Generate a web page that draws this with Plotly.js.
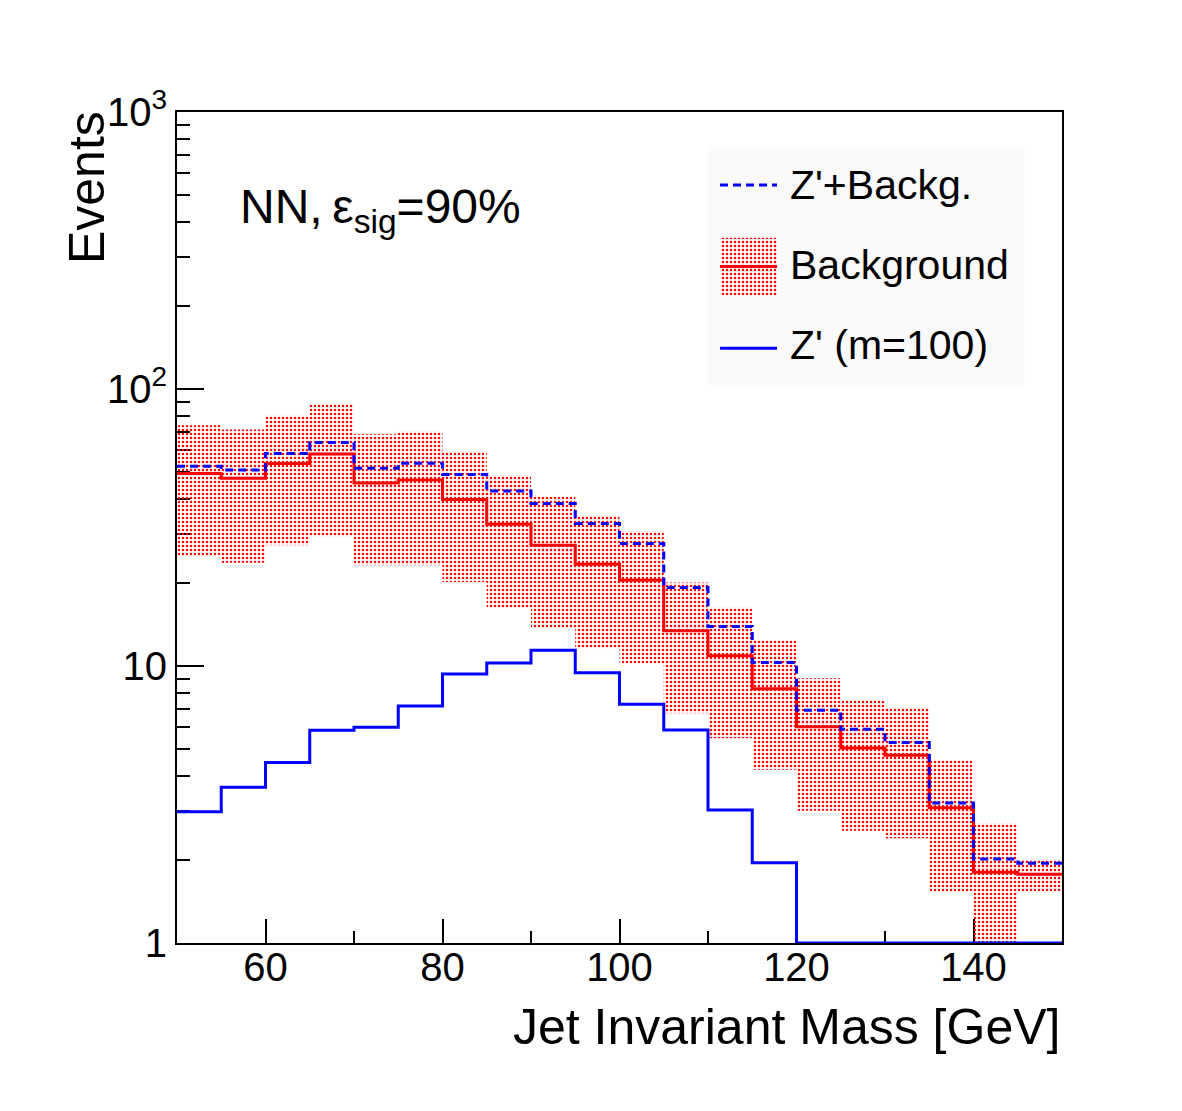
<!DOCTYPE html>
<html>
<head>
<meta charset="utf-8">
<script src="https://cdn.plot.ly/plotly-3.0.1.min.js"></script>
<style>html,body{margin:0;padding:0;background:#fff;}</style>
</head>
<body>
<div id="plot" style="width:1182px;height:1111px;"></div>
<script>
// ---- data ----
const binEdges = [50,55,60,65,70,75,80,85,90,95,100,105,110,115,120,125,130,135,140,145,150];
const background = [49.5,47.6,53.8,58.3,45.8,46.9,39.9,32.5,27.3,23.3,20.4,13.4,10.9,8.28,6.03,5.06,4.76,3.08,1.80,1.77];
const signal = [2.98,3.65,4.48,5.86,6.01,7.17,9.36,10.25,11.4,9.46,7.27,5.88,3.02,1.95,0.89,0.85,0.53,0.12,0.21,0.17];
const sigPlusBkg = [52.6,51.0,58.5,64.1,51.8,54.0,49.1,42.8,38.6,32.7,27.7,19.2,13.9,10.3,6.92,5.91,5.29,3.20,2.01,1.94];
const bandUpper = [74.0,71.4,80.4,88.1,68.6,70.4,59.6,48.9,40.8,35.0,30.7,20.0,16.3,12.4,9.03,7.54,7.10,4.58,2.71,2.01];
const bandLower = [24.8,23.6,27.3,29.3,23.1,23.1,20.1,16.2,13.7,11.6,10.2,6.75,5.49,4.22,3.00,2.54,2.39,1.53,0.90,1.54];
const xTickVals = [60,80,100,120,140];
const yTickVals = [1,10,100,1000];
const yTickText = ['1','10','10<sup>2</sup>','10<sup>3</sup>'];
const legendLabels = ["Z'+Backg.", "Background", "Z' (m=100)"];
const xTitle = 'Jet Invariant Mass [GeV]';
const yTitle = 'Events';
const infoText = 'NN,\u2009\u03B5<sub>sig</sub>=90%';

// ---- helpers ----
const FONT = 'Liberation Sans, Arial, Helvetica, sans-serif';
const yMin = 1;
const RED = '#ff0000', BLUE = '#0000ff';
function stepY(v){ return v.concat([v[v.length-1]]); }
function clampLow(v){ return v.map(d => Math.max(d, yMin)); }
const pattern = {shape: '.', fgcolor: RED, bgcolor: 'rgba(255,255,255,0)', size: 4, solidity: 0.3};

// band polygon built from bin edges + band arrays
const bandX = [], bandY = [];
for (let i = 0; i < bandUpper.length; i++) { bandX.push(binEdges[i], binEdges[i+1]); bandY.push(bandUpper[i], bandUpper[i]); }
for (let i = bandLower.length - 1; i >= 0; i--) { bandX.push(binEdges[i+1], binEdges[i]); bandY.push(bandLower[i], bandLower[i]); }

// minor ticks for log axis
const yMinor = [];
[1,10,100].forEach(d => { for (let k = 2; k <= 9; k++) yMinor.push(k*d); });

// legend geometry (paper fractions of plot area)
const LG = {x0: 0.600, x1: 0.958, y0: 0.6715, y1: 0.9603,
            kx0: 0.6136, kx1: 0.678, tx: 0.6904,
            rows: [0.9122, 0.8141, 0.7156], textRows: [0.9122, 0.8159, 0.7196],
            boxTop: 0.8486, boxBot: 0.7798};

const traces = [
  {x: bandX, y: bandY, mode: 'none', fill: 'toself', fillcolor: 'rgba(255,255,255,0)',
   fillpattern: pattern, hoverinfo: 'skip', showlegend: false},
  {x: binEdges, y: stepY(background), mode: 'lines', line: {shape: 'hv', color: RED, width: 3}, showlegend: false},
  {x: binEdges, y: stepY(sigPlusBkg), mode: 'lines', line: {shape: 'hv', color: BLUE, width: 3, dash: '8px,5px'}, showlegend: false},
  {x: binEdges, y: stepY(clampLow(signal)), mode: 'lines', line: {shape: 'hv', color: BLUE, width: 3}, showlegend: false},
  // legend key: patterned box
  {x: [LG.kx0, LG.kx1, LG.kx1, LG.kx0, LG.kx0], y: [LG.boxBot, LG.boxBot, LG.boxTop, LG.boxTop, LG.boxBot],
   xaxis: 'x2', yaxis: 'y2', mode: 'none', fill: 'toself', fillcolor: 'rgba(255,255,255,0)',
   fillpattern: pattern, hoverinfo: 'skip', showlegend: false}
];

const shapes = [
  {type: 'rect', xref: 'paper', yref: 'paper', x0: LG.x0, x1: LG.x1, y0: LG.y0, y1: LG.y1,
   fillcolor: '#fafafa', line: {width: 0}, layer: 'below'},
  {type: 'line', xref: 'paper', yref: 'paper', x0: LG.kx0, x1: LG.kx1, y0: LG.rows[0], y1: LG.rows[0],
   line: {color: BLUE, width: 3, dash: '8px,5px'}},
  {type: 'line', xref: 'paper', yref: 'paper', x0: LG.kx0, x1: LG.kx1, y0: LG.rows[1], y1: LG.rows[1],
   line: {color: RED, width: 3}},
  {type: 'line', xref: 'paper', yref: 'paper', x0: LG.kx0, x1: LG.kx1, y0: LG.rows[2], y1: LG.rows[2],
   line: {color: BLUE, width: 3}}
];

const annotations = legendLabels.map((t, i) => ({
  text: t, xref: 'paper', yref: 'paper', x: LG.tx, y: LG.textRows[i], xanchor: 'left', yanchor: 'middle',
  showarrow: false, font: {family: FONT, size: 41, color: '#000'}
}));
annotations.push(
  {text: xTitle, xref: 'paper', yref: 'paper', x: 1, y: -0.101, xanchor: 'right', yanchor: 'middle',
   showarrow: false, font: {family: FONT, size: 50, color: '#000'}},
  {text: yTitle, xref: 'paper', yref: 'paper', x: -0.1017, y: 0.9097, xanchor: 'center', yanchor: 'middle',
   textangle: -90, showarrow: false, font: {family: FONT, size: 50, color: '#000'}},
  {text: infoText, xref: 'paper', yref: 'paper', x: 0.069, y: 0.882, xanchor: 'left', yanchor: 'middle',
   showarrow: false, font: {family: FONT, size: 48, color: '#000'}}
);

const layout = {
  width: 1182, height: 1111,
  margin: {l: 177, r: 120, t: 112, b: 168, pad: 0},
  paper_bgcolor: '#ffffff', plot_bgcolor: '#ffffff',
  showlegend: false,
  font: {family: FONT, color: '#000'},
  xaxis: {
    range: [50, 150], tickmode: 'array', tickvals: xTickVals,
    ticks: 'inside', ticklen: 24, tickwidth: 2, tickcolor: '#000',
    showline: true, linewidth: 2, linecolor: '#000', mirror: true,
    showgrid: false, zeroline: false, layer: 'below traces',
    tickfont: {family: FONT, size: 40, color: '#000'}, ticklabelstandoff: -12,
    minor: {tickmode: 'linear', tick0: 50, dtick: 10, ticks: 'inside', ticklen: 12, tickwidth: 2, tickcolor: '#000', showgrid: false}
  },
  yaxis: {
    type: 'log', range: [0, 3], tickmode: 'array', tickvals: yTickVals, ticktext: yTickText,
    ticks: 'inside', ticklen: 27, tickwidth: 2, tickcolor: '#000',
    showline: true, linewidth: 2, linecolor: '#000', mirror: true,
    showgrid: false, zeroline: false, layer: 'below traces',
    tickfont: {family: FONT, size: 40, color: '#000'}, ticklabelstandoff: 0,
    minor: {tickmode: 'array', tickvals: yMinor, ticks: 'inside', ticklen: 13, tickwidth: 2, tickcolor: '#000', showgrid: false}
  },
  xaxis2: {overlaying: 'x', range: [0, 1], visible: false, fixedrange: true},
  yaxis2: {overlaying: 'y', range: [0, 1], visible: false, fixedrange: true},
  shapes: shapes,
  annotations: annotations
};

Plotly.newPlot('plot', traces, layout, {staticPlot: true, displayModeBar: false});
</script>
</body>
</html>
